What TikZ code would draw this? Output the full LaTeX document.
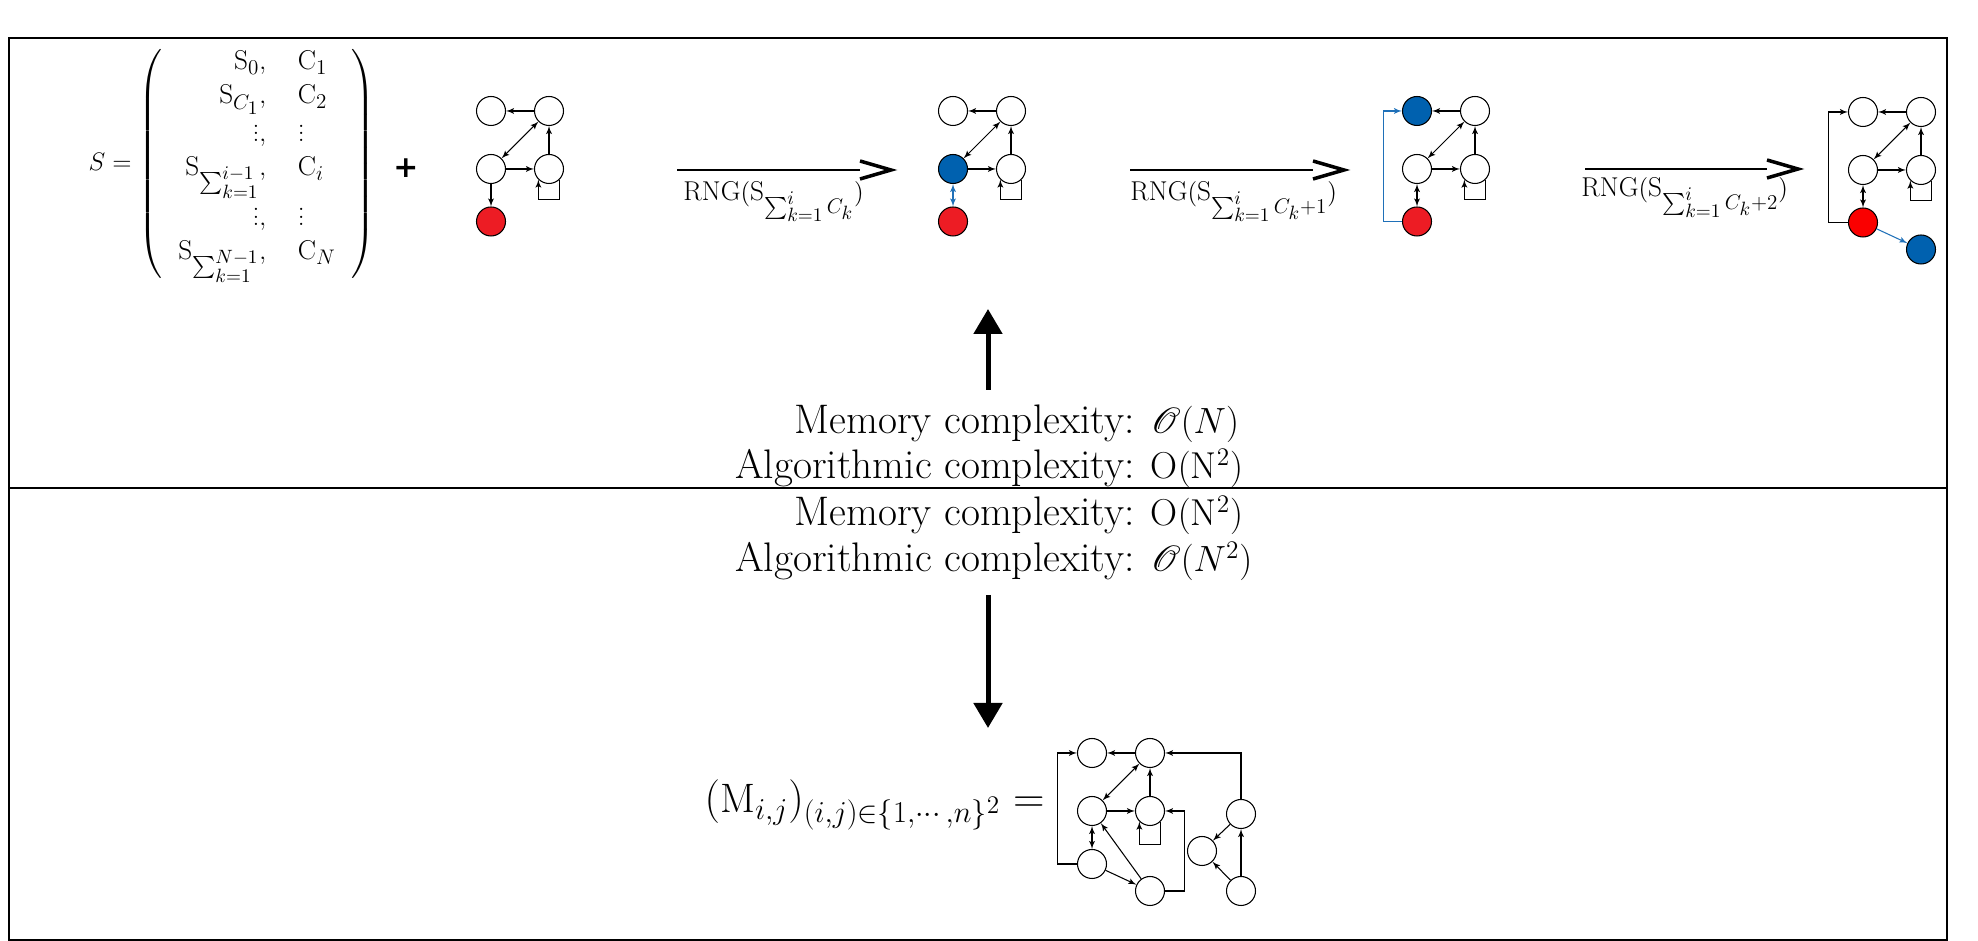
\documentclass[tikz,border=0pt]{standalone}
\usepackage{amsmath}
\usepackage{amssymb}
\usepackage{mathrsfs}
\usepackage{fontspec}
\newfontfamily\plusfont{DejaVu Sans}
\usetikzlibrary{shapes,arrows,arrows.meta,positioning}
\DeclareMathSizes{15.5}{15.5}{12.5}{10.5}
\DeclareMathSizes{23.5}{21.3}{15}{11}
\DeclareMathSizes{23.4}{23.4}{17.6}{14}
\definecolor{nodered}{RGB}{237,28,36}
\definecolor{brightred}{RGB}{250,0,0}
\definecolor{nodeblue}{RGB}{0,97,175}
\definecolor{edgeblue}{RGB}{31,112,184}

\begin{document}
\begin{tikzpicture}[node distance=1.16cm, auto]
\tikzstyle{state} = [circle, draw, line width=0.6pt, minimum size=0.58cm, inner sep=0pt]
\tikzstyle{line} = [draw, line width=0.6pt, -latex']
\tikzstyle{both} = [draw, line width=0.6pt, latex'-latex']
\tikzstyle{bigarrow} = [draw, line width=0.1cm, -{Triangle[length=0.5cm, width=0.56cm]}]
\tikzstyle{chevron} = [draw, line width=2pt, line join=miter]
\tikzstyle{small} = [font=\fontsize{15.5}{18}\selectfont, inner sep=0pt]
\tikzstyle{big} = [font=\fontsize{23.5}{26}\selectfont, inner sep=0pt]
\tikzstyle{formula} = [font=\fontsize{23.4}{26.5}\selectfont, inner sep=0pt]

\useasboundingbox (0,0) rectangle (39.56,18.82);
\draw [line width=0.75pt] (0.18,0.02) rectangle (38.94,18.06);
\draw [line width=0.75pt] (0.18,9.06) -- (38.94,9.06);

% sequence of states and counts
\node [small] (seq) at (4.64,15.54) {$S = \left(\def\arraystretch{1.08}\setlength{\arraycolsep}{9pt}\begin{array}{rl}
  \mathrm{S}_0, & \mathrm{C}_1\\
  \mathrm{S}_{C_1}, & \mathrm{C}_2\\
  \vdots, & \vdots\\
  \mathrm{S}_{\sum_{k=1}^{i-1}}, & \mathrm{C}_i\\
  \vdots, & \vdots\\
  \mathrm{S}_{\sum_{k=1}^{N-1}}, & \mathrm{C}_N
\end{array}\right)$};
\node [font=\plusfont\bfseries\fontsize{17}{17}\selectfont] (plus) at (8.12,15.46) {+};

% graph 1
\node [state] (tl1) at (9.82,16.6) {};
\node [state, right of=tl1] (tr1) {};
\node [state, below of=tl1] (ml1) {};
\node [state, right of=ml1] (mr1) {};
\node [state, fill=nodered, below of=ml1, yshift=0.11cm] (red1) {};
\path [line] (tr1) -- (tl1);
\path [line] (mr1) -- (tr1);
\path [both] (ml1) -- (tr1);
\path [line] (ml1) -- (mr1);
\path [line] (ml1) -- (red1);
\path [line] (mr1.-45) -- ++(0,-0.4) -| (mr1.-135);

% step 1
\coordinate (rng1s) at (13.54,15.42);
\coordinate (rng1e) at (17.2,15.42);
\path [draw, line width=0.6pt] (rng1s) -- (rng1e);
\draw [chevron] ([yshift=0.18cm]rng1e) -- ++(0.62,-0.18) -- ++(-0.62,-0.18);
\node [small, anchor=base west] (rng1) at (13.66,14.8) {$\mathrm{RNG}(\mathrm{S}_{\sum_{k=1}^{i} C_k})$};

% graph 2
\node [state] (tl2) at (19.06,16.6) {};
\node [state, right of=tl2] (tr2) {};
\node [state, fill=nodeblue, below of=tl2] (ml2) {};
\node [state, right of=ml2] (mr2) {};
\node [state, fill=nodered, below of=ml2, yshift=0.11cm] (red2) {};
\path [line] (tr2) -- (tl2);
\path [line] (mr2) -- (tr2);
\path [both] (ml2) -- (tr2);
\path [line] (ml2) -- (mr2);
\path [both, draw=edgeblue] (ml2) -- (red2);
\path [line] (mr2.-45) -- ++(0,-0.4) -| (mr2.-135);

% step 2
\coordinate (rng2s) at (22.6,15.42);
\coordinate (rng2e) at (26.26,15.42);
\path [draw, line width=0.6pt] (rng2s) -- (rng2e);
\draw [chevron] ([yshift=0.18cm]rng2e) -- ++(0.62,-0.18) -- ++(-0.62,-0.18);
\node [small, anchor=base west] (rng2) at (22.6,14.81) {$\mathrm{RNG}(\mathrm{S}_{\sum_{k=1}^{i} C_k+1})$};

% graph 3
\node [state, fill=nodeblue] (tl3) at (28.34,16.6) {};
\node [state, right of=tl3] (tr3) {};
\node [state, below of=tl3] (ml3) {};
\node [state, right of=ml3] (mr3) {};
\node [state, fill=nodered, below of=ml3, yshift=0.11cm] (red3) {};
\path [line] (tr3) -- (tl3);
\path [line] (mr3) -- (tr3);
\path [both] (ml3) -- (tr3);
\path [line] (ml3) -- (mr3);
\path [both] (ml3) -- (red3);
\path [line] (mr3.-45) -- ++(0,-0.4) -| (mr3.-135);
\path [line, draw=edgeblue] (red3.west) -- ++(-0.37,0) |- (tl3.west);

% step 3
\coordinate (rng3s) at (31.7,15.44);
\coordinate (rng3e) at (35.34,15.44);
\path [draw, line width=0.6pt] (rng3s) -- (rng3e);
\draw [chevron] ([yshift=0.18cm]rng3e) -- ++(0.62,-0.18) -- ++(-0.62,-0.18);
\node [small, anchor=base west] (rng3) at (31.62,14.89) {$\mathrm{RNG}(\mathrm{S}_{\sum_{k=1}^{i} C_k+2})$};

% graph 4
\node [state] (tl4) at (37.26,16.58) {};
\node [state, right of=tl4] (tr4) {};
\node [state, below of=tl4] (ml4) {};
\node [state, right of=ml4] (mr4) {};
\node [state, fill=brightred, below of=ml4, yshift=0.11cm] (red4) {};
\node [state, fill=nodeblue, right of=red4, yshift=-0.54cm] (new4) {};
\path [line] (tr4) -- (tl4);
\path [line] (mr4) -- (tr4);
\path [both] (ml4) -- (tr4);
\path [line] (ml4) -- (mr4);
\path [both] (ml4) -- (red4);
\path [line] (mr4.-45) -- ++(0,-0.4) -| (mr4.-135);
\path [line] (red4.west) -- ++(-0.39,0) |- (tl4.west);
\path [line, draw=edgeblue] (red4) -- (new4);

% complexities
\coordinate (upfoot) at (19.76,11.02);
\coordinate (uptip) at (19.76,12.64);
\path [bigarrow] (upfoot) -- (uptip);
\node [big, anchor=west] (cost1) at (14.7,9.88) {\begin{tabular}{@{}r@{ }l@{}}
  Memory complexity: & $\mathscr{O}(N)$\\
  Algorithmic complexity: & $\mathrm{O}(\mathrm{N}^2)$
\end{tabular}};
\node [big, anchor=west] (cost2) at (14.7,8.03) {\begin{tabular}{@{}r@{ }l@{}}
  Memory complexity: & $\mathrm{O}(\mathrm{N}^2)$\\
  Algorithmic complexity: & $\mathscr{O}(N^2)$
\end{tabular}};
\coordinate (downfoot) at (19.76,6.92);
\coordinate (downtip) at (19.76,4.26);
\path [bigarrow] (downfoot) -- (downtip);

% adjacency matrix
\node [formula, anchor=east] (adj) at (20.9,2.72) {$(\mathrm{M}_{i,j})_{(i,j)\in\{1,\cdots,n\}^2} =$};
\node [state] (m1) at (21.84,3.76) {};
\node [state, right of=m1] (m2) {};
\node [state, below of=m1] (m3) {};
\node [state, right of=m3] (m4) {};
\node [state, below of=m3, yshift=0.1cm] (m5) {};
\node [state, right of=m5, yshift=-0.54cm] (m6) {};
\node [state, right of=m6, xshift=0.66cm] (m9) {};
\node [state, above of=m9, yshift=0.38cm] (m7) {};
\node [state] (m8) at (24.04,1.8) {};
\path [line] (m2) -- (m1);
\path [line] (m5.west) -- ++(-0.39,0) |- (m1.west);
\path [line] (m4) -- (m2);
\path [both] (m3) -- (m2);
\path [line] (m3) -- (m4);
\path [line] (m4.-45) -- ++(0,-0.45) -| (m4.-135);
\path [both] (m3) -- (m5);
\path [line] (m5) -- (m6);
\path [line] (m6) -- (m3);
\path [line] (m6.east) -- ++(0.39,0) |- (m4.east);
\path [line] (m7.north) |- (m2.east);
\path [line] (m7) -- (m8);
\path [line] (m9) -- (m7);
\path [line] (m9) -- (m8);
\end{tikzpicture}
\end{document}
